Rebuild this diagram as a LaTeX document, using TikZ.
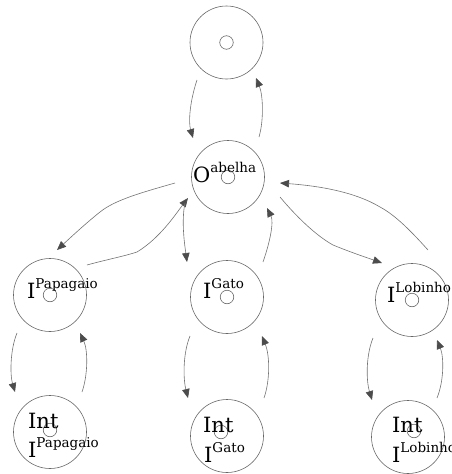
\documentclass[tikz,border=0pt]{standalone}
\usepackage{fontspec}
\setmainfont{DejaVu Serif}
\usetikzlibrary{arrows.meta,calc}
\newcommand\withsup[2]{#1\raisebox{10pt}{\fontsize{13.5}{14}\selectfont #2}}
\begin{document}
\begin{tikzpicture}[x=1pt,y=-1pt,
  state/.style={circle,draw=black!60,line width=0.6pt,minimum size=73pt,inner sep=0pt},
  innerc/.style={circle,draw=black!60,line width=0.6pt,minimum size=13.5pt,inner sep=0pt},
  lbl/.style={anchor=base west,inner sep=0pt,font=\fontsize{21}{21}\selectfont},
  conn/.style={draw=black!55,line width=0.6pt,-{Triangle[length=9pt,width=7.5pt,color=black!70,fill=black!70]}}]
\useasboundingbox (0,0) rectangle (451,474);
% states
\node[state] (T) at (226.5,42.5) {};
\node[state] (O) at (228,177) {};
\node[state] (P) at (50,295) {};
\node[state] (G) at (227,297) {};
\node[state] (L) at (412,300) {};
\node[state] (IP) at (50,432) {};
\node[state] (IG) at (227,436) {};
\node[state] (IL) at (408,437) {};
% inner circles
\node[innerc] (Ti) at (T) {};
\node[innerc] (Oi) at (O) {};
\node[innerc] (Pi) at (P) {};
\node[innerc] (Gi) at (G) {};
\node[innerc] (Li) at (L) {};
\node[innerc] (IPi) at ($(IP)+(0,-2)$) {};
\node[innerc] (IGi) at ($(IG)+(-6,-4)$) {};
\node[innerc] (ILi) at ($(IL)+(6,-6)$) {};
% labels
\node[lbl] (tO) at (193,182) {\withsup{O}{abelha}};
\node[lbl] (tP) at (27,298) {\withsup{I}{Papagaio}};
\node[lbl] (tG) at (203,298) {\withsup{I}{Gato}};
\node[lbl] (tL) at (387,302) {\withsup{I}{Lobinho}};
\node[lbl] (tIP1) at (28,428) {Int};
\node[lbl] (tIP2) at (28,457) {\withsup{I}{Papagaio}};
\node[lbl] (tIG1) at (203,432) {Int};
\node[lbl] (tIG2) at (204,462) {\withsup{I}{Gato}};
\node[lbl] (tIL1) at (392,432) {Int};
\node[lbl] (tIL2) at (392,462) {\withsup{I}{Lobinho}};
% connectors
\draw[conn] ($(T)+(-29.5,37.5)$) .. controls ($(T)+(-37,60)$) and ($(T)+(-38,80)$) .. ($(O)+(-35,-39)$);
\draw[conn] ($(O)+(31,-40)$) .. controls ($(O)+(36,-57)$) and ($(O)+(35,-82)$) .. ($(T)+(29.5,35.5)$);
\draw[conn] ($(O)+(-53,6)$) .. controls ($(O)+(-88,16)$) and ($(O)+(-113,23)$) .. ($(O)+(-128,35)$)
   .. controls ($(O)+(-143,47)$) and ($(O)+(-158,61)$) .. ($(P)+(7,-45)$);
\draw[conn] ($(P)+(37,-30)$) .. controls ($(P)+(55,-35)$) and ($(P)+(75,-39)$) .. ($(P)+(87,-43)$)
   .. controls ($(P)+(110,-57)$) and ($(P)+(125,-80)$) .. ($(O)+(-40,21)$);
\draw[conn] ($(O)+(-43,26)$) .. controls ($(O)+(-47,45)$) and ($(O)+(-43,70)$) .. ($(G)+(-40,-35)$);
\draw[conn] ($(G)+(36,-35)$) .. controls ($(G)+(43,-55)$) and ($(G)+(47,-75)$) .. ($(O)+(39,31)$);
\draw[conn] ($(O)+(52,20)$) .. controls ($(O)+(67,38)$) and ($(O)+(87,58)$) .. ($(O)+(105,68)$)
   .. controls ($(O)+(122,75)$) and ($(O)+(137,80)$) .. ($(L)+(-30,-37)$);
\draw[conn] ($(L)+(16,-50)$) .. controls ($(L)+(-2,-70)$) and ($(L)+(-17,-85)$) .. ($(L)+(-32,-93)$)
   .. controls ($(L)+(-57,-108)$) and ($(L)+(-92,-114)$) .. ($(O)+(52,6)$);
\draw[conn] ($(P)+(-33,38)$) .. controls ($(P)+(-40,55)$) and ($(P)+(-40,80)$) .. ($(IP)+(-35,-40)$);
\draw[conn] ($(IP)+(32,-40)$) .. controls ($(IP)+(38,-57)$) and ($(IP)+(38,-82)$) .. ($(P)+(30,38)$);
\draw[conn] ($(G)+(-37,39)$) .. controls ($(G)+(-44,56)$) and ($(G)+(-44,81)$) .. ($(IG)+(-39,-38)$);
\draw[conn] ($(IG)+(37,-38)$) .. controls ($(IG)+(43,-55)$) and ($(IG)+(43,-80)$) .. ($(G)+(35,39)$);
\draw[conn] ($(L)+(-39,38)$) .. controls ($(L)+(-46,55)$) and ($(L)+(-46,80)$) .. ($(IL)+(-36,-37)$);
\draw[conn] ($(IL)+(29,-39)$) .. controls ($(IL)+(36,-56)$) and ($(IL)+(36,-80)$) .. ($(L)+(25,40)$);
\end{tikzpicture}
\end{document}
